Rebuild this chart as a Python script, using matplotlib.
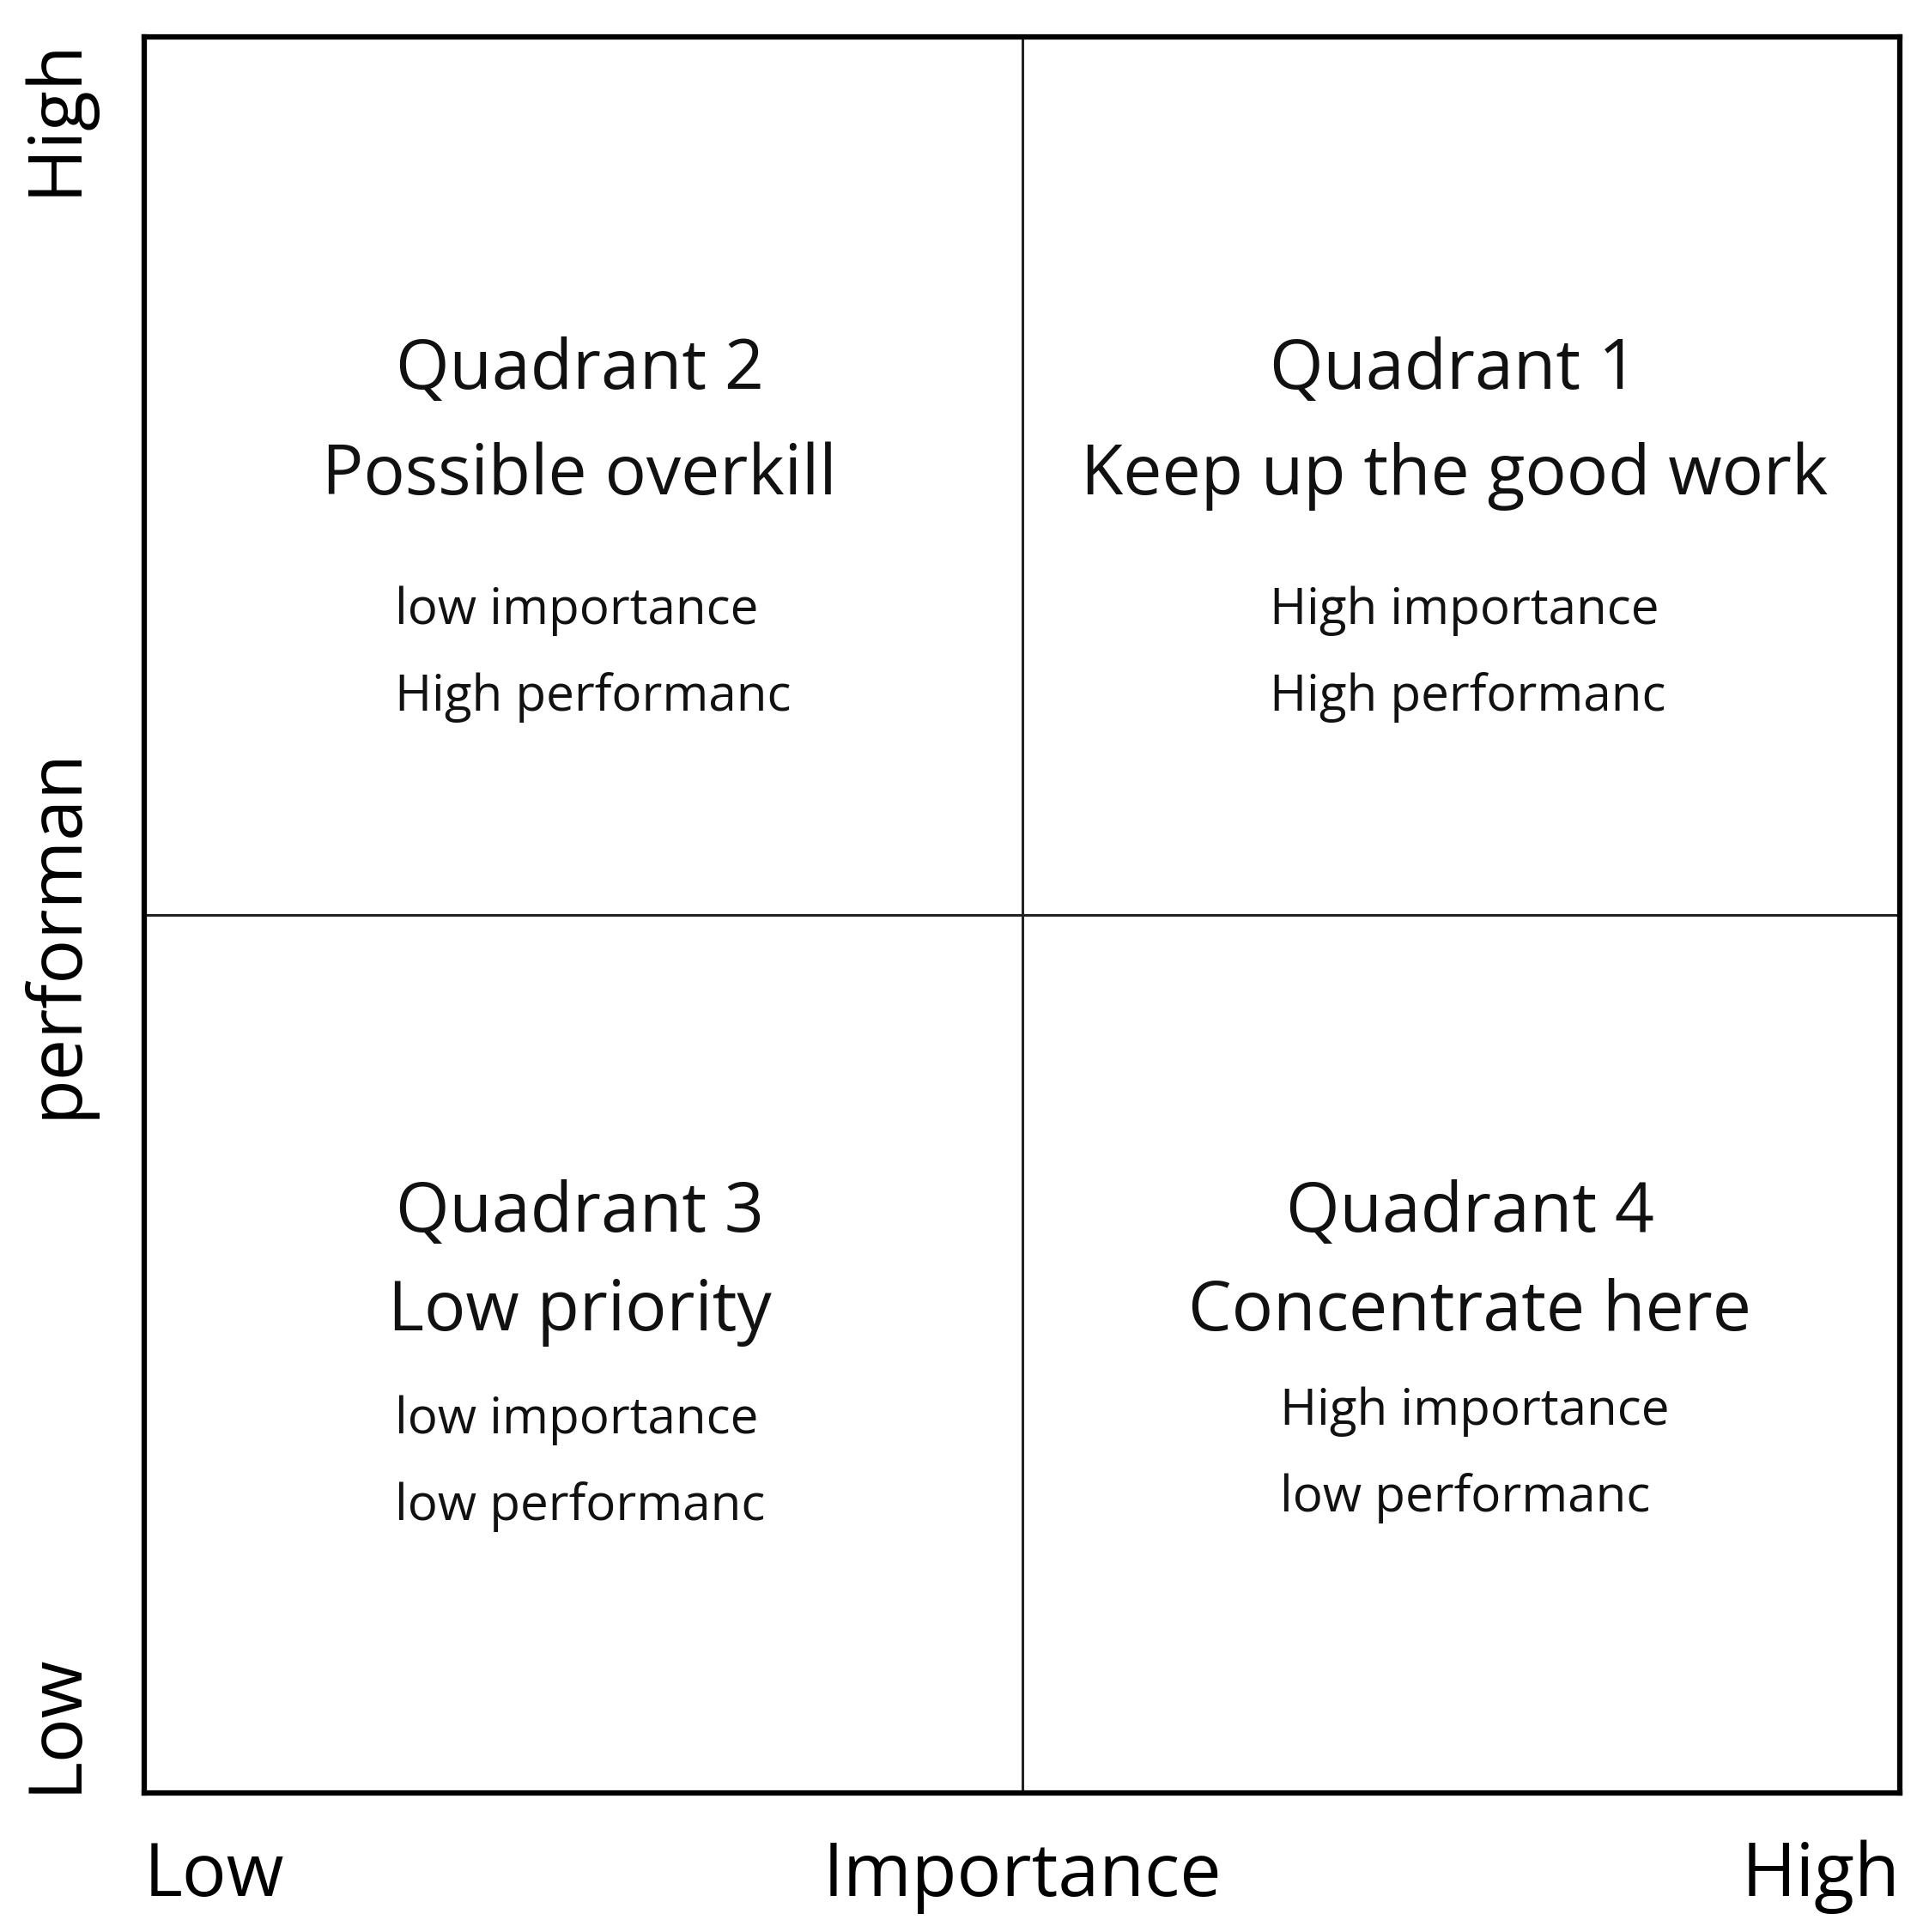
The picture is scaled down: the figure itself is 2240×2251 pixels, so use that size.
import matplotlib
matplotlib.use("Agg")
import matplotlib.pyplot as plt

plt.rcParams['font.family'] = ['Open Sans', 'DejaVu Sans']

titles = ["Quadrant 1", "Quadrant 2", "Quadrant 3", "Quadrant 4"]
subtitles = ["Keep up the good work", "Possible overkill", "Low priority", "Concentrate here"]
importance_lbl = ["High importance", "low importance", "low importance", "High importance"]
performance_lbl = ["High performanc", "High performanc", "low performanc", "low performanc"]
x_ticks = ["Low", "Importance", "High"]
y_ticks = ["Low", "performan", "High"]

# layout (positions in axes units)
title_x = [0.746, 0.248, 0.248, 0.755]
title_y = [0.81, 0.81, 0.33, 0.33]
sub_y = [0.75, 0.75, 0.274, 0.274]
small_x = [0.641, 0.143, 0.143, 0.647]
imp_y = [0.673, 0.673, 0.212, 0.217]
perf_y = [0.624, 0.624, 0.163, 0.168]

fig = plt.figure(figsize=(22.4, 22.51), dpi=100)
ax = fig.add_axes([0.075, 0.072, 0.913, 0.909])
ax.set_xlim(0, 1); ax.set_ylim(0, 1)
ax.set_xticks([]); ax.set_yticks([])
for s in ax.spines.values():
    s.set_linewidth(4.5)
ax.axvline(0.5, color='#222', lw=2.2)
ax.axhline(0.5, color='#222', lw=2.2)

for i in range(4):
    ax.text(title_x[i], title_y[i], titles[i], ha='center', va='center', fontsize=58, color='#111')
    ax.text(title_x[i], sub_y[i], subtitles[i], ha='center', va='center', fontsize=58, color='#111')
    ax.text(small_x[i], imp_y[i], importance_lbl[i], ha='left', va='center', fontsize=42, color='#111')
    ax.text(small_x[i], perf_y[i], performance_lbl[i], ha='left', va='center', fontsize=42, color='#111')

ax.text(0.0, -0.048, x_ticks[0], ha='left', va='center', fontsize=62, transform=ax.transAxes)
ax.text(0.5, -0.048, x_ticks[1], ha='center', va='center', fontsize=62, transform=ax.transAxes)
ax.text(1.0, -0.048, x_ticks[2], ha='right', va='center', fontsize=62, transform=ax.transAxes)
ax.text(-0.05, 0.0, y_ticks[0], ha='center', va='bottom', rotation=90, fontsize=62, transform=ax.transAxes)
ax.text(-0.05, 0.49, y_ticks[1], ha='center', va='center', rotation=90, fontsize=62, transform=ax.transAxes)
ax.text(-0.05, 1.0, y_ticks[2], ha='center', va='top', rotation=90, fontsize=62, transform=ax.transAxes)

fig.savefig("out.png", dpi=100, facecolor='white')
